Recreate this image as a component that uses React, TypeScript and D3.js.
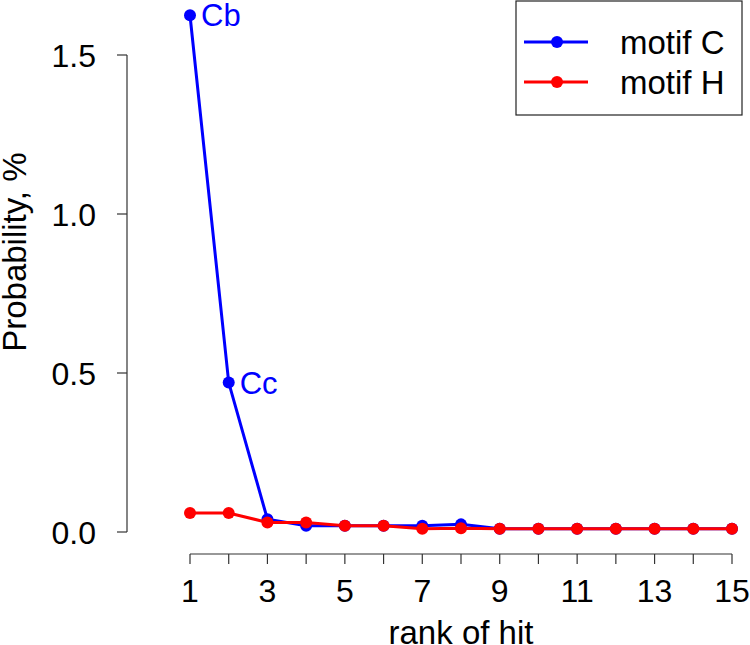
import React from "react";
import * as d3 from "d3";

// hit probabilities for the two motifs, by rank
const ranks = [1, 2, 3, 4, 5, 6, 7, 8, 9, 10, 11, 12, 13, 14, 15];
const motifC = [1.625, 0.47, 0.04, 0.02, 0.02, 0.02, 0.02, 0.024, 0.01, 0.01, 0.01, 0.01, 0.01, 0.01, 0.01];
const motifH = [0.06, 0.06, 0.03, 0.03, 0.02, 0.02, 0.01, 0.012, 0.01, 0.01, 0.01, 0.01, 0.01, 0.01, 0.01];
const xTicks = [1, 2, 3, 4, 5, 6, 7, 8, 9, 10, 11, 12, 13, 14, 15];
const xLabels = [1, 3, 5, 7, 9, 11, 13, 15];
const yTicks = [0, 0.5, 1.0, 1.5];
const pointLabels = [
  { series: "C", rank: 1, text: "Cb" },
  { series: "C", rank: 2, text: "Cc" },
];

const W = 750;
const H = 645;
const font = "'Liberation Sans', Arial, sans-serif";

export default function App() {
  const x = d3.scaleLinear().domain([1, 15]).range([190, 732]);
  const y = d3.scaleLinear().domain([0, 1.5]).range([532, 55]);

  const line = d3
    .line<number>()
    .x((d, i) => x(ranks[i]))
    .y((d) => y(d));

  const series = [
    { name: "motif C", key: "C", values: motifC, color: "#0000ff" },
    { name: "motif H", key: "H", values: motifH, color: "#ff0000" },
  ];

  const axisY = 554;
  const axisX = 127;

  return (
    <svg
      width={W}
      height={H}
      style={{ position: "absolute", left: 0, top: 0, background: "#fff" }}
      fontFamily={font}
    >
      {/* y axis */}
      <line x1={axisX} x2={axisX} y1={y(1.5)} y2={y(0)} stroke="#333" strokeWidth={1.2} />
      {yTicks.map((t) => (
        <g key={t}>
          <line x1={axisX - 10} x2={axisX} y1={y(t)} y2={y(t)} stroke="#333" strokeWidth={1.2} />
          <text x={96} y={y(t)} dy="0.36em" textAnchor="end" fontSize={32}>
            {t.toFixed(1)}
          </text>
        </g>
      ))}
      <text
        transform={`translate(26,${y(0.88)}) rotate(-90)`}
        textAnchor="middle"
        fontSize={33}
      >
        Probability, %
      </text>

      {/* x axis */}
      <line x1={x(1)} x2={x(15)} y1={axisY} y2={axisY} stroke="#333" strokeWidth={1.2} />
      {xTicks.map((t) => (
        <line key={t} x1={x(t)} x2={x(t)} y1={axisY} y2={axisY + 10} stroke="#333" strokeWidth={1.2} />
      ))}
      {xLabels.map((t) => (
        <text key={t} x={x(t)} y={602} textAnchor="middle" fontSize={32}>
          {t}
        </text>
      ))}
      <text x={(x(1) + x(15)) / 2} y={644} textAnchor="middle" fontSize={33}>
        rank of hit
      </text>

      {/* series */}
      {series.map((s) => (
        <g key={s.key}>
          <path d={line(s.values) ?? ""} fill="none" stroke={s.color} strokeWidth={3} />
          {s.values.map((v, i) => (
            <circle key={i} cx={x(ranks[i])} cy={y(v)} r={6} fill={s.color} />
          ))}
        </g>
      ))}

      {pointLabels.map((p) => {
        const vals = p.series === "C" ? motifC : motifH;
        return (
          <text
            key={p.text}
            x={x(p.rank) + 11}
            y={y(vals[p.rank - 1])}
            dy="0.36em"
            fontSize={31}
            fill="#0000ff"
          >
            {p.text}
          </text>
        );
      })}

      {/* legend */}
      <rect x={516} y={1} width={226} height={114} fill="#fff" stroke="#222" strokeWidth={1.2} />
      {series.map((s, i) => {
        const ly = 42 + i * 40;
        return (
          <g key={s.key}>
            <line x1={524} x2={588} y1={ly} y2={ly} stroke={s.color} strokeWidth={3} />
            <circle cx={557} cy={ly} r={6} fill={s.color} />
            <text x={620} y={ly} dy="0.36em" fontSize={33}>
              {s.name}
            </text>
          </g>
        );
      })}
    </svg>
  );
}
